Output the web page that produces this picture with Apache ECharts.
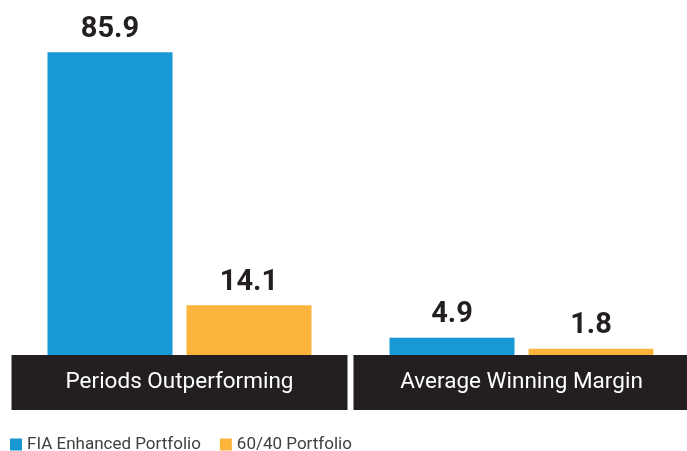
<!DOCTYPE html>
<html><head><meta charset="utf-8">
<script src="https://cdn.jsdelivr.net/npm/echarts@6/dist/echarts.min.js"></script>
<style>html,body{margin:0;padding:0;background:#fff}#c{width:687px;height:451px}</style>
</head><body><div id="c"></div>
<script>
const categories = ['Periods Outperforming', 'Average Winning Margin'];
const seriesNames = ['FIA Enhanced Portfolio', '60/40 Portfolio'];
const fiaValues = [85.9, 4.9];
const sixtyFortyValues = [14.1, 1.8];

const chart = echarts.init(document.getElementById('c'), null, {renderer: 'canvas'});
const labelStyle = {
  show: true, position: 'top', distance: 8,
  fontFamily: 'Roboto', fontWeight: 'bold', fontSize: 29, color: '#231f20',
  formatter: p => p.value.toFixed(1)
};
chart.setOption({
  animation: false,
  textStyle: {fontFamily: 'Roboto'},
  grid: {left: 8.5, width: 684, top: 52, bottom: 96, containLabel: false, outerBoundsMode: 'none'},
  legend: {
    left: 10, top: 436, padding: 0, icon: 'rect', itemWidth: 12, itemHeight: 12, itemGap: 19,
    textStyle: {fontFamily: 'Roboto', fontSize: 17, color: '#414042'},
    data: seriesNames
  },
  xAxis: {
    type: 'category', data: categories,
    axisLine: {show: false}, axisTick: {show: false},
    axisLabel: {
      interval: 0, margin: 0, color: '#ffffff', fontFamily: 'Roboto', fontSize: 22.5,
      backgroundColor: '#231f20', width: 336, height: 55, lineHeight: 55,
      align: 'center', verticalAlign: 'top'
    }
  },
  yAxis: {type: 'value', min: 0, max: 86, show: false, splitLine: {show: false}},
  series: [
    {name: seriesNames[0], type: 'bar', data: fiaValues, barWidth: 125, barGap: '11.2%',
     itemStyle: {color: '#1899d6'}, label: labelStyle, z: 1},
    {name: seriesNames[1], type: 'bar', data: sixtyFortyValues, barWidth: 125,
     itemStyle: {color: '#fbb53c'}, label: labelStyle, z: 1}
  ]
});
</script></body></html>
